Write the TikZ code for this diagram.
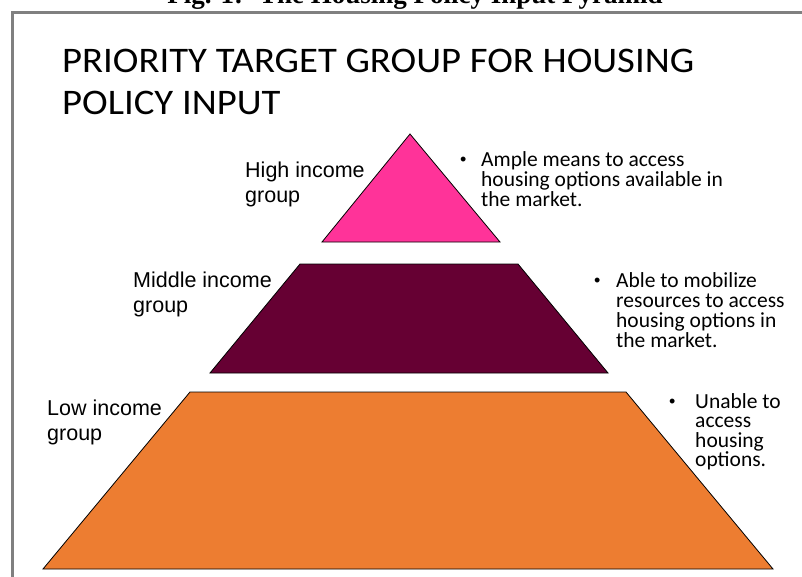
\documentclass[tikz,border=0pt]{standalone}
\usepackage{fontspec}
\setmainfont{Carlito}
\newfontfamily\arialf{Liberation Sans}
\newfontfamily\timesf{Liberation Serif}
\definecolor{pinkfill}{HTML}{FF3399}
\definecolor{maroonfill}{HTML}{660033}
\definecolor{orangefill}{HTML}{ED7D31}
\definecolor{framegray}{HTML}{808080}
\newcommand{\wideTitle}[1]{\scalebox{1.075}[1]{#1}}
\tikzset{
  tier/.style={draw=black, line width=0.8pt, line join=miter},
  lbl/.style={anchor=base west, inner sep=0pt, font=\arialf\fontsize{21.5}{25}\selectfont},
  bul/.style={anchor=base west, inner sep=0pt, font=\fontsize{21.5}{20}\selectfont},
  dotb/.style={anchor=base west, inner sep=0pt, font=\arialf\fontsize{18}{20}\selectfont},
  ttl/.style={anchor=base west, inner sep=0pt, font=\fontsize{36}{42}\selectfont},
  capt/.style={anchor=base, inner sep=0pt, font=\timesf\bfseries\fontsize{27}{30}\selectfont},
}
\begin{document}
\begin{tikzpicture}[x=1pt,y=-1pt]
\useasboundingbox (0,0) rectangle (802,576);
\clip (0,0) rectangle (802,576);
\fill[white] (0,0) rectangle (802,576);
% caption (cut off at top)
\node[capt] (cap) at (415,3) {Fig. 1:\hspace{7pt} The Housing Policy Input Pyramid};
% slide frame
\draw[framegray, line width=3pt] (12,12.5) rectangle (840,620);
% title
\node[ttl] (t1) at (62,72.5) {\wideTitle{PRIORITY TARGET GROUP FOR HOUSING}};
\node[ttl] (t2) at (62,114.5) {\wideTitle{POLICY INPUT}};
% pyramid tiers
\filldraw[tier, fill=pinkfill] (410,134) -- (500,242) -- (322,242) -- cycle;
\filldraw[tier, fill=maroonfill] (300,264) -- (518,264) -- (608,373) -- (210,373) -- cycle;
\filldraw[tier, fill=orangefill] (190,392) -- (626,392) -- (773,569) -- (43,569) -- cycle;
% left labels
\node[lbl] (h1) at (245,177) {High income};
\node[lbl] (h2) at (245,202) {group};
\node[lbl] (m1) at (133,287) {Middle income};
\node[lbl] (m2) at (133,312) {group};
\node[lbl] (l1) at (47,415) {Low income};
\node[lbl] (l2) at (47,440) {group};
% right bullets
\node[dotb] (hb) at (460,165) {•};
\node[bul] (ha) at (481,166) {Ample means to access};
\node[bul] (hbb) at (481,186) {housing options available in};
\node[bul] (hc) at (481,206) {the market.};
\node[dotb] (mb) at (594,286) {•};
\node[bul] (ma) at (616,287) {Able to mobilize};
\node[bul] (mbb) at (616,307) {resources to access};
\node[bul] (mc) at (616,327) {housing options in};
\node[bul] (md) at (616,347) {the market.};
\node[dotb] (lb) at (669,407) {•};
\node[bul] (la) at (695,408) {Unable to};
\node[bul] (lbb) at (695,427) {access};
\node[bul] (lc) at (695,447) {housing};
\node[bul] (ld) at (695,466) {options.};
\end{tikzpicture}
\end{document}
